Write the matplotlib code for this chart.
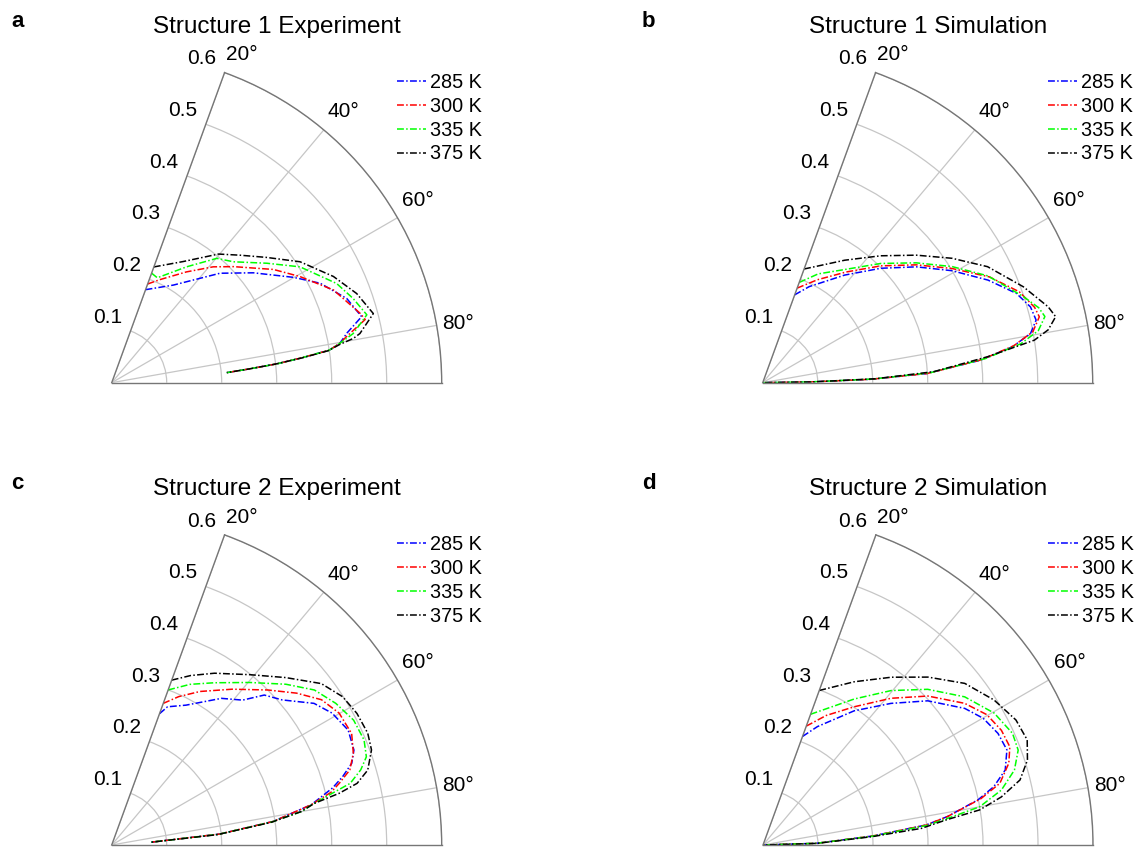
import numpy as np
import matplotlib.pyplot as plt

plt.rcParams['font.family'] = ['Liberation Sans', 'DejaVu Sans']

temps = ['285 K', '300 K', '335 K', '375 K']
colors = ['#0000ff', '#ff0000', '#00ff00', '#000000']
titles = ['Structure 1 Experiment', 'Structure 1 Simulation',
          'Structure 2 Experiment', 'Structure 2 Simulation']
letters = ['a', 'b', 'c', 'd']
r_ticks = [0.1, 0.2, 0.3, 0.4, 0.5, 0.6]
theta_ticks = [20, 40, 60, 80]

# panel a : structure 1 experiment (angle in deg, radius)
a285_t = [20, 32.3, 40.3, 44.7, 52.2, 59.9, 64.5, 70.3, 75.2, 78.1, 80.2, 81.5, 82.5, 83.5, 84.3, 85]
a285_r = [0.18, 0.21, 0.249, 0.28, 0.326, 0.382, 0.42, 0.454, 0.47, 0.437, 0.421, 0.40, 0.35, 0.302, 0.25, 0.21]
a300_t = [20, 25.1, 34, 41.2, 46.4, 55, 60.6, 67.3, 74.4, 76, 78.9, 80.2, 81.5, 82.5, 83.5, 84.3, 85]
a300_r = [0.191, 0.207, 0.243, 0.28, 0.306, 0.359, 0.393, 0.437, 0.469, 0.475, 0.435, 0.421, 0.40, 0.35, 0.302, 0.25, 0.21]
a335_t = [20, 23.5, 32.9, 40.2, 45.2, 52.4, 58.4, 66.2, 70.8, 75.1, 78.5, 80.2, 81.5, 82.5, 83.5, 84.3, 85]
a335_r = [0.212, 0.208, 0.251, 0.296, 0.312, 0.356, 0.402, 0.447, 0.465, 0.48, 0.448, 0.421, 0.40, 0.35, 0.302, 0.25, 0.21]
a375_t = [20, 30.6, 39.7, 45.2, 51, 57.3, 64.4, 70, 75.2, 78.8, 79.6, 80.5, 81.6, 82.6, 83.5, 84.3, 85]
a375_r = [0.224, 0.256, 0.304, 0.329, 0.362, 0.407, 0.447, 0.474, 0.492, 0.46, 0.447, 0.42, 0.398, 0.348, 0.30, 0.25, 0.21]

# panel b : structure 1 simulation
b285_t = [20, 25.8, 37.3, 45.9, 53, 59.4, 65.5, 70.6, 74.2, 77.1, 79.6, 81.8, 84.1, 86.8, 88.2, 89.1, 90]
b285_r = [0.17, 0.194, 0.246, 0.299, 0.35, 0.40, 0.45, 0.489, 0.506, 0.51, 0.495, 0.459, 0.398, 0.299, 0.195, 0.084, 0]
b300_t = [20, 28, 37, 45.3, 52.5, 58.9, 65, 70.5, 74.5, 76.6, 79.3, 81.6, 84, 86.8, 88.2, 89.1, 90]
b300_r = [0.183, 0.212, 0.252, 0.302, 0.352, 0.402, 0.455, 0.495, 0.513, 0.517, 0.50, 0.462, 0.40, 0.30, 0.196, 0.085, 0]
b335_t = [20, 27, 35.9, 44.7, 52, 58.5, 64.6, 71.7, 74.8, 76.8, 79.3, 81.4, 83.8, 86.6, 88.1, 89.1, 90]
b335_r = [0.194, 0.222, 0.254, 0.305, 0.354, 0.404, 0.453, 0.499, 0.52, 0.527, 0.51, 0.475, 0.408, 0.305, 0.20, 0.086, 0]
b375_t = [20, 33.8, 42.9, 50.3, 56.7, 62.7, 69.8, 75.1, 77.3, 79.5, 81.1, 83.4, 86.3, 88, 89.1, 90]
b375_r = [0.22, 0.268, 0.315, 0.363, 0.412, 0.46, 0.505, 0.537, 0.546, 0.528, 0.50, 0.412, 0.312, 0.205, 0.09, 0]

# panel c : structure 2 experiment
c285_t = [20, 22, 28, 36.8, 42.1, 45.5, 49.6, 55, 59.1, 64.1, 68.6, 71.2, 73.5, 75.5, 78.6, 81.7, 84.2, 86]
c285_r = [0.254, 0.271, 0.288, 0.333, 0.355, 0.389, 0.407, 0.449, 0.467, 0.478, 0.473, 0.461, 0.438, 0.415, 0.37, 0.297, 0.198, 0.07]
c300_t = [20, 24.3, 29.9, 37.7, 45.2, 50.6, 55.3, 59.9, 65.1, 69.2, 72.5, 74.8, 76.5, 78.6, 81.7, 84.2, 86]
c300_r = [0.274, 0.296, 0.322, 0.358, 0.40, 0.435, 0.464, 0.478, 0.481, 0.47, 0.454, 0.429, 0.41, 0.37, 0.297, 0.198, 0.07]
c335_t = [20, 26, 32.3, 40.4, 47.3, 52.6, 57.7, 62.7, 67.4, 70.9, 73.2, 75.5, 76.8, 78.7, 80, 81.8, 84.3, 86]
c335_r = [0.30, 0.325, 0.349, 0.388, 0.431, 0.464, 0.482, 0.495, 0.497, 0.49, 0.473, 0.448, 0.412, 0.37, 0.35, 0.295, 0.195, 0.07]
c375_t = [20, 25, 30.9, 39.1, 46.1, 52.4, 57.3, 61.8, 66.4, 69.9, 73.7, 75.9, 77.2, 78.4, 80, 81.9, 84.4, 86]
c375_r = [0.319, 0.34, 0.364, 0.399, 0.439, 0.481, 0.499, 0.506, 0.508, 0.503, 0.485, 0.46, 0.424, 0.376, 0.35, 0.293, 0.193, 0.07]

# panel d : structure 2 simulation
d285_t = [20, 24.7, 34.2, 42.1, 48.8, 55.9, 60.1, 64.6, 68.7, 72.8, 75.8, 78.1, 81.2, 83, 85.3, 88.2, 90]
d285_r = [0.21, 0.237, 0.295, 0.347, 0.398, 0.443, 0.462, 0.473, 0.476, 0.461, 0.433, 0.40, 0.34, 0.299, 0.20, 0.097, 0]
d300_t = [20, 26, 33.4, 41.1, 47.9, 54.9, 59.8, 64.3, 68.3, 71.6, 75.4, 78, 81.2, 83, 85.3, 88.2, 90]
d300_r = [0.23, 0.262, 0.301, 0.354, 0.404, 0.448, 0.471, 0.481, 0.483, 0.471, 0.445, 0.405, 0.34, 0.30, 0.20, 0.097, 0]
d335_t = [20, 32, 39.7, 46.6, 53.7, 60.3, 65.9, 69.6, 73.4, 77, 80, 81.6, 83.2, 85.4, 88.2, 90]
d335_r = [0.253, 0.313, 0.365, 0.412, 0.455, 0.484, 0.497, 0.495, 0.477, 0.445, 0.40, 0.345, 0.30, 0.20, 0.097, 0]
d375_t = [20, 29.2, 37.4, 44.5, 51.3, 57.9, 63.7, 68.3, 72.2, 75.8, 78.6, 80.8, 82.2, 84, 85.6, 88.3, 90]
d375_r = [0.299, 0.34, 0.384, 0.428, 0.47, 0.496, 0.513, 0.517, 0.505, 0.482, 0.442, 0.399, 0.336, 0.29, 0.20, 0.098, 0]

panels = [
    [(a285_t, a285_r), (a300_t, a300_r), (a335_t, a335_r), (a375_t, a375_r)],
    [(b285_t, b285_r), (b300_t, b300_r), (b335_t, b335_r), (b375_t, b375_r)],
    [(c285_t, c285_r), (c300_t, c300_r), (c335_t, c335_r), (c375_t, c375_r)],
    [(d285_t, d285_r), (d300_t, d300_r), (d335_t, d335_r), (d375_t, d375_r)],
]

# layout in figure pixels
W, H = 1137, 848
R = 330.0
origins = [(111.7, 382.7), (762.7, 382.7), (111.7, 845.0), (763.0, 845.0)]
letter_x = [11, 642, 11, 642]
# offsets (points) of the angle labels from the end of each spoke
theta_offsets = [(12.3, 12.7), (14.0, 13.1), (15.0, 12.7), (15.6, 1.5)]
dashdot = (0, (4.5, 1.5, 1.0, 1.5))

fig = plt.figure(figsize=(W / 100, H / 100), dpi=100)

for k, (ox, oy) in enumerate(origins):
    wedge_h = R * np.cos(np.deg2rad(20))
    top = oy - wedge_h
    cy = oy - wedge_h / 2
    rect = [ox / W, (H - (cy + R / 2)) / H, R / W, R / H]
    ax = fig.add_axes(rect, projection='polar')
    ax.set_theta_zero_location('N')
    ax.set_theta_direction(-1)
    ax.set_thetamin(20)
    ax.set_thetamax(90)
    ax.set_ylim(0, 0.6)

    ax.set_yticks(r_ticks)
    ax.set_yticklabels([])
    ax.set_xticks(np.deg2rad(theta_ticks))
    ax.set_xticklabels([])
    ax.tick_params(length=0)
    ax.grid(color='#c6c6c6', linewidth=0.9)
    for name in ['polar', 'start', 'end']:
        ax.spines[name].set_color('#767676')
        ax.spines[name].set_linewidth(1.0)
    ax.spines['inner'].set_visible(False)

    for (t, r), c, lab in zip(panels[k], colors, temps):
        ax.plot(np.deg2rad(t), r, color=c, lw=1.1, linestyle=dashdot, label=lab)

    for rv in r_ticks:
        ax.annotate('%.1f' % rv, xy=(np.deg2rad(20), rv), xytext=(-16.5, 10),
                    textcoords='offset points', ha='center', va='center',
                    fontsize=15, annotation_clip=False)
    for a, off in zip(theta_ticks, theta_offsets):
        ax.annotate('%d°' % a, xy=(np.deg2rad(a), 0.6), xytext=off,
                    textcoords='offset points', ha='center', va='center',
                    fontsize=15, annotation_clip=False)

    ax.legend(loc='upper left', bbox_to_anchor=((ox + 285) / W, 1 - top / H),
              bbox_transform=fig.transFigure, frameon=False, fontsize=14.3,
              borderpad=0, borderaxespad=0, handlelength=1.5, handletextpad=0.2,
              labelspacing=0.25)

    fig.text((ox + 165) / W, 1 - (top - 40) / H, titles[k], ha='center',
             va='baseline', fontsize=17.5)
    fig.text(letter_x[k] / W, 1 - (top - 46) / H, letters[k], ha='left',
             va='baseline', fontsize=16, fontweight='bold')

fig.savefig('out.png', dpi=100)
